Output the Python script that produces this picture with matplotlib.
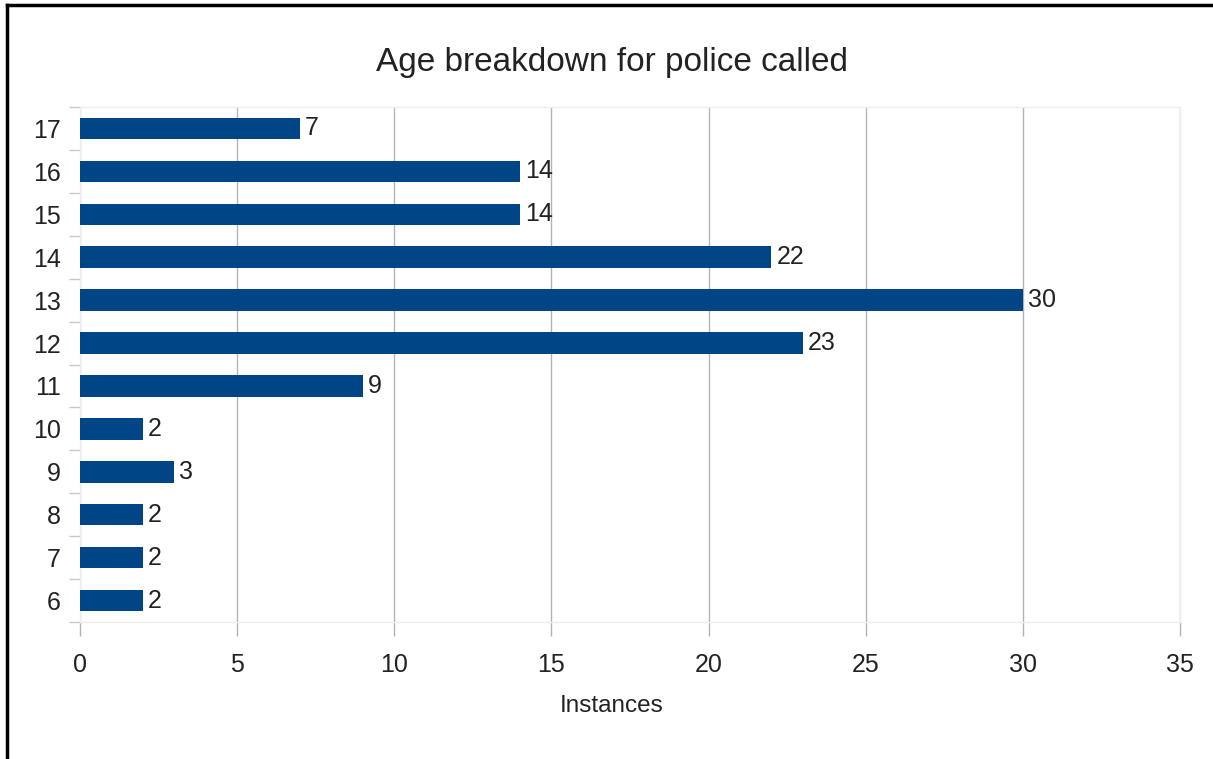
"""Horizontal bar chart of police call-outs by age"""

import matplotlib
matplotlib.use("Agg")
import matplotlib.pyplot as plt
from matplotlib.lines import Line2D
from matplotlib.ticker import MultipleLocator

# data
ages = ["6", "7", "8", "9", "10", "11", "12", "13", "14", "15", "16", "17"]
instances = [2, 2, 2, 3, 2, 9, 23, 30, 22, 14, 14, 7]
x_ticks = [0, 5, 10, 15, 20, 25, 30, 35]

BAR_COLOR = "#004586"
GRID_COLOR = "#b3b3b3"
FRAME_COLOR = "#eeeeee"
TEXT_COLOR = "#222222"

plt.rcParams["font.family"] = ["Liberation Sans", "DejaVu Sans"]

fig = plt.figure(figsize=(12.13, 7.59), dpi=100)
ax = fig.add_axes([80 / 1213, 1 - 622 / 759, 1100 / 1213, 515 / 759])

positions = list(range(len(ages)))
ax.barh(positions, instances, height=0.5, color=BAR_COLOR, zorder=3)
for pos, val in zip(positions, instances):
    ax.annotate(str(val), (val, pos), xytext=(3.5, 0), textcoords="offset points",
                va="center", ha="left", fontsize=18, color=TEXT_COLOR)

ax.set_xlim(0, 35)
ax.set_ylim(-0.5, len(ages) - 0.5)
ax.set_xticks(x_ticks)
ax.set_xticklabels([str(t) for t in x_ticks])
ax.set_yticks(positions)
ax.set_yticklabels(ages)
ax.yaxis.set_minor_locator(MultipleLocator(1, offset=0.5))

ax.tick_params(axis="y", which="major", length=0, pad=14, labelsize=18,
               labelcolor=TEXT_COLOR)
ax.tick_params(axis="y", which="minor", length=8, width=1, color="#c8c8c8")
ax.tick_params(axis="x", length=10, width=1, color=GRID_COLOR, pad=12,
               labelsize=18, labelcolor=TEXT_COLOR)

ax.grid(axis="x", color=GRID_COLOR, linewidth=1, zorder=0)
for side in ax.spines.values():
    side.set_color(FRAME_COLOR)
    side.set_linewidth(1)

fig.text(612 / 1213, 1 - 62 / 759, "Age breakdown for police called",
         ha="center", va="center", fontsize=24, color=TEXT_COLOR)
fig.text(612 / 1213, 1 - 706 / 759, "Instances",
         ha="center", va="center", fontsize=17.5, color=TEXT_COLOR)

# page border on the top and left edges
fig.add_artist(Line2D([7 / 1213, 1], [1 - 5 / 759, 1 - 5 / 759],
                      transform=fig.transFigure, color="black", linewidth=2.5))
fig.add_artist(Line2D([7 / 1213, 7 / 1213], [0, 1 - 5 / 759],
                      transform=fig.transFigure, color="black", linewidth=2.5))

fig.savefig("out.png", dpi=100)
